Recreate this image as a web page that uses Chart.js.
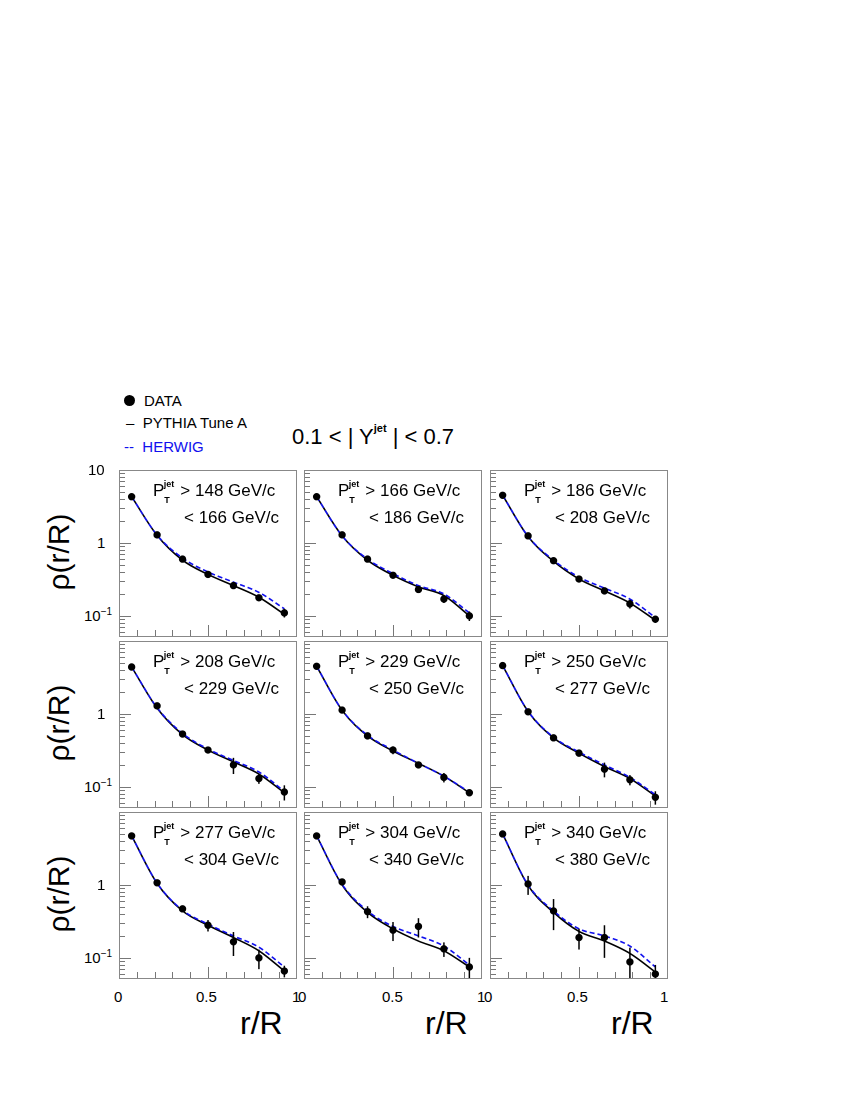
<!DOCTYPE html>
<html lang="en">
<head>
<meta charset="UTF-8">
<title>Jet shapes</title>
<script src="https://cdn.jsdelivr.net/npm/chart.js"></script>
<style>
  body { margin: 0; background: #fff; font-family: "Liberation Sans", Arial, sans-serif; }
  #page { position: relative; width: 850px; height: 1100px; }
  .panel { position: absolute; }
  .t { position: absolute; white-space: nowrap; color: #000; }
  sup, sub { font-size: 9px; font-weight: bold; }
</style>
</head>
<body>
<div id="page"></div>
<script>
// r/R bin centres
const rBins = [0.071, 0.214, 0.357, 0.5, 0.643, 0.786, 0.929];
const ptLow = [148, 166, 186, 208, 229, 250, 277, 304, 340];
const ptHigh = [166, 186, 208, 229, 250, 277, 304, 340, 380];

const dataVals = [
  [4.3, 1.29, 0.60, 0.37, 0.26, 0.177, 0.11],
  [4.3, 1.29, 0.60, 0.36, 0.23, 0.17, 0.10],
  [4.5, 1.25, 0.57, 0.32, 0.22, 0.146, 0.09],
  [4.4, 1.29, 0.53, 0.32, 0.20, 0.13, 0.085],
  [4.5, 1.13, 0.50, 0.32, 0.20, 0.135, 0.083],
  [4.6, 1.07, 0.47, 0.29, 0.175, 0.125, 0.072],
  [4.7, 1.07, 0.47, 0.28, 0.166, 0.10, 0.066],
  [4.7, 1.10, 0.43, 0.24, 0.27, 0.133, 0.075],
  [5.0, 1.03, 0.44, 0.19, 0.19, 0.088, 0.06]
];
const dataErr = [
  [0.1, 0.05, 0.04, 0.02, 0.02, 0.015, 0.015],
  [0.1, 0.08, 0.03, 0.02, 0.02, 0.02, 0.015],
  [0.1, 0.06, 0.03, 0.02, 0.02, 0.02, 0.01],
  [0.1, 0.08, 0.04, 0.03, 0.05, 0.02, 0.02],
  [0.1, 0.06, 0.05, 0.04, 0.02, 0.02, 0.008],
  [0.1, 0.08, 0.04, 0.03, 0.04, 0.02, 0.015],
  [0.1, 0.08, 0.05, 0.05, 0.06, 0.03, 0.012],
  [0.1, 0.12, 0.08, 0.07, 0.08, 0.03, 0.025],
  [0.2, 0.30, 0.20, 0.06, 0.09, 0.05, 0.02]
];
const pythiaVals = [
  [4.3, 1.27, 0.58, 0.37, 0.26, 0.18, 0.105],
  [4.3, 1.25, 0.58, 0.36, 0.25, 0.19, 0.10],
  [4.5, 1.22, 0.56, 0.32, 0.22, 0.15, 0.087],
  [4.4, 1.20, 0.52, 0.32, 0.22, 0.15, 0.083],
  [4.5, 1.12, 0.50, 0.31, 0.21, 0.14, 0.083],
  [4.6, 1.08, 0.47, 0.29, 0.19, 0.13, 0.075],
  [4.7, 1.05, 0.44, 0.28, 0.19, 0.125, 0.066],
  [4.7, 1.00, 0.42, 0.25, 0.17, 0.125, 0.075],
  [5.0, 0.98, 0.42, 0.23, 0.17, 0.115, 0.064]
];
const herwigVals = [
  [4.3, 1.28, 0.62, 0.40, 0.29, 0.21, 0.125],
  [4.3, 1.25, 0.60, 0.38, 0.26, 0.20, 0.11],
  [4.5, 1.23, 0.58, 0.34, 0.24, 0.17, 0.095],
  [4.4, 1.22, 0.54, 0.33, 0.23, 0.16, 0.087],
  [4.5, 1.13, 0.51, 0.32, 0.21, 0.14, 0.085],
  [4.6, 1.09, 0.48, 0.30, 0.20, 0.135, 0.078],
  [4.7, 1.06, 0.45, 0.29, 0.20, 0.14, 0.075],
  [4.7, 1.02, 0.44, 0.27, 0.20, 0.145, 0.08],
  [5.0, 1.00, 0.44, 0.25, 0.20, 0.145, 0.075]
];

const colX = [119, 304, 490];
const rowY = [470, 641, 812];
const panelW = 178, panelH = 167;
const yMin = 0.0513, yMax = 10;

const page = document.getElementById('page');
function addText(html, x, y, css) {
  const d = document.createElement('div');
  d.className = 't';
  d.innerHTML = html;
  d.style.left = x + 'px';
  d.style.top = y + 'px';
  if (css) d.style.cssText += css;
  page.appendChild(d);
  return d;
}

// error bars, inward ticks and frame
const panelDeco = {
  id: 'panelDeco',
  afterDatasetsDraw(chart) {
    const ctx = chart.ctx, xs = chart.scales.x, ys = chart.scales.y;
    const a = chart.chartArea;
    const errs = chart.options.plugins.panelDeco.errs;
    const d = chart.data.datasets[0].data;
    ctx.save();
    ctx.strokeStyle = '#000';
    ctx.lineWidth = 1.5;
    d.forEach((p, i) => {
      const px = xs.getPixelForValue(p.x);
      ctx.beginPath();
      ctx.moveTo(px, ys.getPixelForValue(p.y + errs[i]));
      ctx.lineTo(px, ys.getPixelForValue(Math.max(p.y - errs[i], yMin)));
      ctx.stroke();
    });
    ctx.lineWidth = 1;
    ctx.strokeStyle = '#777';
    for (let k = 0; k <= 10; k++) {
      const px = Math.round(xs.getPixelForValue(k / 10)) + 0.5;
      const len = k % 5 === 0 ? 12 : 7;
      ctx.beginPath();
      ctx.moveTo(px, a.bottom); ctx.lineTo(px, a.bottom - len);
      ctx.stroke();
    }
    for (let e = -2; e <= 1; e++) {
      for (let m = 1; m <= 9; m++) {
        const v = m * Math.pow(10, e);
        if (v < yMin || v > yMax) continue;
        const py = Math.round(ys.getPixelForValue(v)) + 0.5;
        const len = m === 1 ? 12 : 6;
        ctx.beginPath();
        ctx.moveTo(a.left, py); ctx.lineTo(a.left + len, py);
        ctx.stroke();
      }
    }
    ctx.strokeStyle = '#888';
    ctx.strokeRect(a.left + 0.5, a.top + 0.5, a.right - a.left - 1, a.bottom - a.top - 1);
    ctx.restore();
  }
};

for (let i = 0; i < 9; i++) {
  const c = i % 3, r = Math.floor(i / 3);
  const cv = document.createElement('canvas');
  cv.className = 'panel';
  cv.style.left = colX[c] + 'px';
  cv.style.top = rowY[r] + 'px';
  cv.style.width = panelW + 'px';
  cv.style.height = panelH + 'px';
  cv.width = panelW; cv.height = panelH;
  page.appendChild(cv);
  const pts = arr => arr.map((v, k) => ({ x: rBins[k], y: v }));
  new Chart(cv, {
    type: 'scatter',
    data: {
      datasets: [
        { data: pts(dataVals[i]), backgroundColor: '#000', borderColor: '#000', pointRadius: 3.2 },
        { data: pts(herwigVals[i]), showLine: true, borderColor: '#1010ee', borderWidth: 1.6,
          borderDash: [5, 3], pointRadius: 0, cubicInterpolationMode: 'monotone' },
        { data: pts(pythiaVals[i]), showLine: true, borderColor: '#000', borderWidth: 1.6,
          pointRadius: 0, cubicInterpolationMode: 'monotone' }
      ]
    },
    options: {
      responsive: false,
      animation: false,
      devicePixelRatio: 2,
      layout: { padding: 0, autoPadding: false },
      plugins: { legend: { display: false }, tooltip: { enabled: false }, panelDeco: { errs: dataErr[i] } },
      scales: {
        x: { type: 'linear', min: 0, max: 1, display: false },
        y: { type: 'logarithmic', min: yMin, max: yMax, display: false }
      }
    },
    plugins: [panelDeco]
  });
  addText('P<sub style="position:relative;top:3px">T</sub><sup style="position:relative;left:-6px;top:-2px">jet</sup>&gt; ' + ptLow[i] + ' GeV/c',
    colX[c] + 34, rowY[r] + 11, 'font-size:17px;');
  addText('&lt; ' + ptHigh[i] + ' GeV/c', colX[c] + 65, rowY[r] + 38, 'font-size:17px;');
}

// axes labels
rowY.forEach((y0, r) => {
  if (r === 0) addText('10', 88, y0 - 9, 'font-size:15px;');
  addText('1', 97, y0 + 64, 'font-size:15px;');
  addText('10<sup style="font-size:10px;font-weight:normal">&minus;1</sup>', 84, y0 + 136, 'font-size:15px;');
  addText('&rho;(r/R)', 20, y0 + 65, 'font-size:30px;transform:rotate(-90deg);transform-origin:center;');
});
addText('0', 114, 988, 'font-size:15px;');
addText('0.5', 196, 988, 'font-size:15px;');
addText('1', 292, 988, 'font-size:15px;');
addText('0', 298, 988, 'font-size:15px;');
addText('0.5', 382, 988, 'font-size:15px;');
addText('1', 477, 988, 'font-size:15px;');
addText('0', 484, 988, 'font-size:15px;');
addText('0.5', 567, 988, 'font-size:15px;');
addText('1', 660, 988, 'font-size:15px;');
addText('r/R', 240, 1005, 'font-size:32px;');
addText('r/R', 425, 1005, 'font-size:32px;');
addText('r/R', 611, 1005, 'font-size:32px;');

// legend and title
addText('<span style="display:inline-block;width:11px;height:11px;border-radius:50%;background:#000;margin-right:9px;"></span>DATA', 124, 392, 'font-size:15px;');
addText('&ndash;&nbsp;&nbsp;PYTHIA Tune A', 126, 414, 'font-size:15px;');
addText('--&nbsp;&nbsp;HERWIG', 124, 438, 'font-size:15px;color:#1010ee;');
addText('0.1 &lt; | Y<sup style="font-size:11px;position:relative;top:-4px">jet</sup> | &lt; 0.7', 292, 424, 'font-size:22px;');
</script>
</body>
</html>
